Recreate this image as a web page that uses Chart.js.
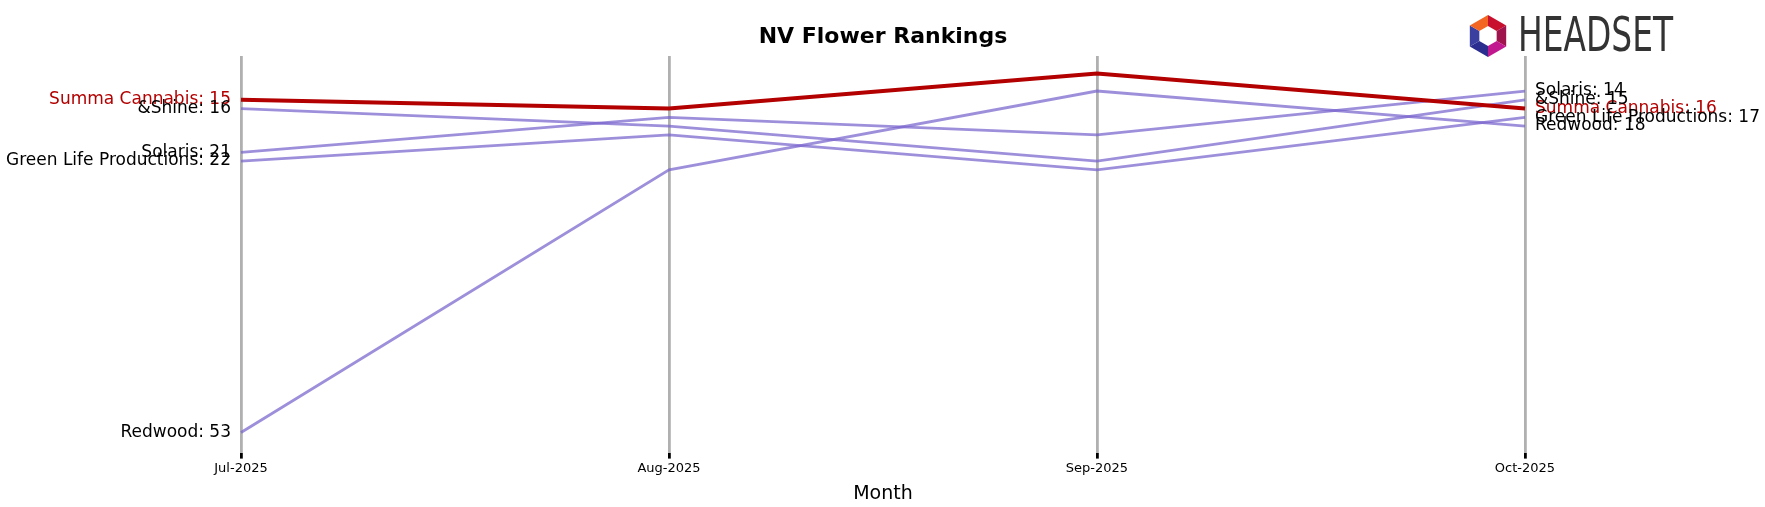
<!DOCTYPE html>
<html><head><meta charset="utf-8">
<script src="https://cdn.jsdelivr.net/npm/chart.js@4"></script>
<style>html,body{margin:0;padding:0;background:#fff}#w{width:1765px;height:507px}</style>
</head><body><div id="w"><canvas id="c"></canvas></div>
<script>
const months = ["Jul-2025","Aug-2025","Sep-2025","Oct-2025"];
const brands = ["Summa Cannabis","&Shine","Solaris","Green Life Productions","Redwood"];
const summa = [15,16,12,16];
const shine = [16,18,22,15];
const solaris = [21,17,19,14];
const greenLife = [22,19,23,17];
const redwood = [53,23,14,18];
const seriesData = [summa, shine, solaris, greenLife, redwood];

const datasets = brands.map((b,i)=>({
  label:b, data:seriesData[i],
  borderColor: i===0 ? '#b30000' : 'rgba(120,100,205,0.72)',
  borderWidth: i===0 ? 4 : 2.8,
  pointRadius:0, tension:0, order: i===0?0:1
}));

const labelPlugin = {
  id:'lbl',
  afterDatasetsDraw(chart){
    const ctx=chart.ctx, x=chart.scales.x, y=chart.scales.y;
    ctx.save();
    ctx.font='17px "DejaVu Sans"';
    ctx.textBaseline='middle';
    brands.forEach((b,i)=>{
      const d=seriesData[i];
      ctx.fillStyle = i===0 ? '#b30000' : '#000';
      ctx.textAlign='right';
      ctx.fillText(b+': '+d[0], x.getPixelForValue(0)-10, y.getPixelForValue(d[0]));
      ctx.textAlign='left';
      ctx.fillText(b+': '+d[3], x.getPixelForValue(3)+10, y.getPixelForValue(d[3]));
    });
    ctx.font='bold 22px "DejaVu Sans"';
    ctx.fillStyle='#000'; ctx.textAlign='center';
    ctx.fillText('NV Flower Rankings',(chart.chartArea.left+chart.chartArea.right)/2,37);
    const cx=1488, cy=36, R=21, r=10;
    const cols=['#c8102e','#a0144e','#c2188f','#2b2e8f','#3a3fa0','#f26522'];
    for(let k=0;k<6;k++){
      const a1=(-90+k*60)*Math.PI/180, a2=(-30+k*60)*Math.PI/180;
      ctx.beginPath();
      ctx.moveTo(cx+R*Math.cos(a1),cy+R*Math.sin(a1));
      ctx.lineTo(cx+R*Math.cos(a2),cy+R*Math.sin(a2));
      ctx.lineTo(cx+r*Math.cos(a2),cy+r*Math.sin(a2));
      ctx.lineTo(cx+r*Math.cos(a1),cy+r*Math.sin(a1));
      ctx.closePath(); ctx.fillStyle=cols[k]; ctx.fill();
    }
    ctx.save();
    ctx.translate(1518,39); ctx.scale(0.85,1.1);
    ctx.font='43px "DejaVu Sans Condensed"';
    ctx.fillStyle='#333'; ctx.textAlign='left';
    ctx.fillText('HEADSET',0,0);
    ctx.restore();
    ctx.restore();
  }
};

new Chart(document.getElementById('c'),{
  type:'line',
  data:{labels:months,datasets},
  options:{
    responsive:true, maintainAspectRatio:false, animation:false,
    layout:{padding:{left:241,right:240,top:56,bottom:2}},
    plugins:{legend:{display:false},tooltip:{enabled:false}},
    scales:{
      x:{offset:false,
        grid:{color:'#b0b0b0',lineWidth:2.8,drawTicks:true,tickLength:6,tickColor:'#000'},
        border:{display:false},
        ticks:{color:'#000',font:{size:13,family:'DejaVu Sans'},maxRotation:0,padding:2},
        title:{display:true,text:'Month',color:'#000',font:{size:19,family:'DejaVu Sans'},padding:{top:4,bottom:0}}},
      y:{display:false,reverse:true,min:10,max:55.3}
    }
  },
  plugins:[labelPlugin]
});
</script></body></html>
